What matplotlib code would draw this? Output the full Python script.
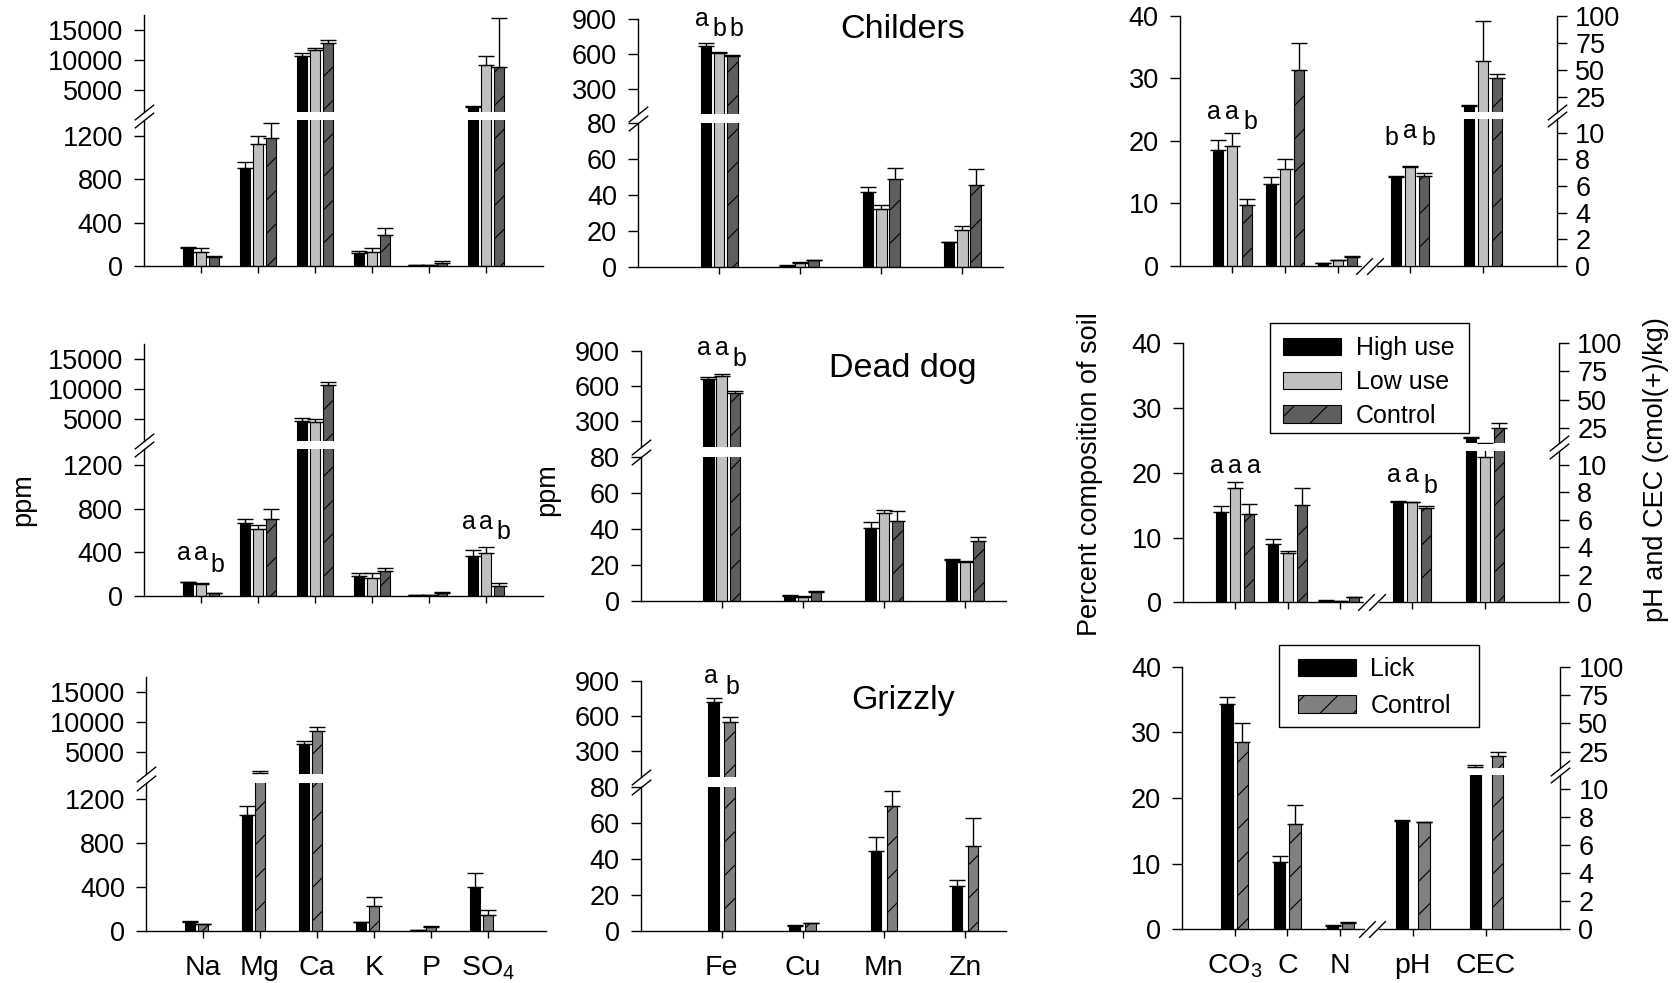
import matplotlib.pyplot as plt
import matplotlib.transforms as mtransforms
import numpy as np

plt.rcParams['font.family'] = ['Liberation Sans', 'DejaVu Sans']
plt.rcParams['hatch.linewidth'] = 0.8

W, H = 1675, 983

# categories
elements = ['Na', 'Mg', 'Ca', 'K', 'P', r'$\mathregular{SO_4}$']
traces = ['Fe', 'Cu', 'Mn', 'Zn']
soil = [r'$\mathregular{CO_3}$', 'C', 'N', 'pH', 'CEC']

# Childers (high use, low use, control): mean and SE
ch_el_high = [163, 902, 10670, 117, 9, 2220]
ch_el_high_se = [9, 56, 550, 25, 1, 80]
ch_el_low = [132, 1127, 11670, 132, 10, 9110]
ch_el_low_se = [31, 77, 390, 31, 1, 1560]
ch_el_ctrl = [86, 1180, 12780, 283, 30, 8780]
ch_el_ctrl_se = [4, 144, 500, 71, 15, 8160]

ch_tr_high = [666, 0.6, 41.6, 13.7]
ch_tr_high_se = [23, 0.1, 2.8, 0.3]
ch_tr_low = [603, 2.2, 31.8, 20.6]
ch_tr_low_se = [8, 0.6, 2.5, 2.2]
ch_tr_ctrl = [583, 3.6, 49.0, 45.3]
ch_tr_ctrl_se = [3, 0.3, 6.0, 9.2]

# CO3, C, N (%) then pH, CEC
ch_so_high = [18.5, 13.1, 0.5, 6.7, 16.4]
ch_so_high_se = [1.7, 1.2, 0.05, 0.05, 0.6]
ch_so_low = [19.2, 15.5, 0.96, 7.45, 58.2]
ch_so_low_se = [2.1, 1.6, 0.05, 0.05, 36.6]
ch_so_ctrl = [9.8, 31.4, 1.5, 6.75, 41.9]
ch_so_ctrl_se = [0.9, 4.2, 0.05, 0.23, 4.3]

# Dead dog
dd_el_high = [123, 672, 4610, 184, 6, 368]
dd_el_high_se = [6, 31, 560, 25, 1, 53]
dd_el_low = [104, 614, 4385, 166, 6, 390]
dd_el_low_se = [10, 37, 500, 40, 1, 61]
dd_el_ctrl = [22, 703, 10560, 227, 21, 86]
dd_el_ctrl_se = [6, 98, 610, 31, 10, 28]

dd_tr_high = [658, 3.0, 40.3, 22.7]
dd_tr_high_se = [17, 0.3, 3.3, 0.4]
dd_tr_low = [681, 2.4, 49.0, 21.4]
dd_tr_low_se = [23, 0.6, 1.6, 1.0]
dd_tr_ctrl = [542, 5.2, 44.4, 33.3]
dd_tr_ctrl_se = [17, 0.5, 5.5, 2.4]

dd_so_high = [13.9, 9.0, 0.26, 7.33, 15.5]
dd_so_high_se = [0.9, 0.7, 0.1, 0.05, 1.5]
dd_so_low = [17.6, 7.6, 0.15, 7.31, 10.6]
dd_so_low_se = [1.0, 0.4, 0.03, 0.02, 1.1]
dd_so_ctrl = [13.6, 15.1, 0.77, 6.84, 24.4]
dd_so_ctrl_se = [1.6, 2.6, 0.11, 0.2, 4.5]

# Grizzly (lick, control)
gr_el_lick = [85, 1054, 6370, 79, 6, 397]
gr_el_lick_se = [6, 85, 550, 6, 1, 133]
gr_el_ctrl = [61, 1520, 8510, 230, 33, 142]
gr_el_ctrl_se = [3, 330, 600, 82, 12, 46]

gr_tr_lick = [718, 3.0, 44.5, 25.1]
gr_tr_lick_se = [34, 0.1, 7.6, 3.0]
gr_tr_ctrl = [550, 4.3, 69.5, 46.9]
gr_tr_ctrl_se = [40, 0.3, 7.9, 15.9]

gr_so_lick = [34.3, 10.3, 0.56, 7.74, 11.8]
gr_so_lick_se = [1.1, 0.9, 0.05, 0.05, 1.3]
gr_so_ctrl = [28.5, 16.0, 1.0, 7.64, 21.2]
gr_so_ctrl_se = [2.9, 2.9, 0.1, 0.05, 3.8]

BLACK = '#000000'
LIGHT = '#c0c0c0'
DARK = '#5e5e5e'
MID = '#808080'

TICK_FS = 19.5

fig = plt.figure(figsize=(W / 100, H / 100), dpi=100)


def px_rect(x0, ybot, x1, ytop):
    return [x0 / W, 1 - ybot / H, (x1 - x0) / W, (ybot - ytop) / H]


SLASH = dict(marker=[(-1, -0.8), (1, 0.8)], markersize=14, linestyle='none',
             color='k', mec='k', mew=1, clip_on=False, zorder=6)


def style_y(ax, side='left'):
    ax.tick_params(axis='y', direction='out', length=7, width=1, labelsize=TICK_FS,
                   pad=8 if side == 'left' else 6)
    for s in ax.spines.values():
        s.set_linewidth(1)


def broken_axes(x0, x1, yb, ylo_top, yhi_bot, yt, xlim, lo_lim, hi_lim, lo_ticks, hi_ticks):
    lo = fig.add_axes(px_rect(x0, yb, x1, ylo_top))
    hi = fig.add_axes(px_rect(x0, yhi_bot, x1, yt))
    for ax in (lo, hi):
        ax.set_xlim(*xlim)
        ax.spines[['top', 'right']].set_visible(False)
        ax.patch.set_visible(False)
        style_y(ax)
    hi.spines['bottom'].set_visible(False)
    hi.tick_params(axis='x', bottom=False, labelbottom=False)
    lo.tick_params(axis='x', direction='out', length=5, width=1, labelsize=20.5, pad=12)
    lo.set_ylim(*lo_lim)
    hi.set_ylim(*hi_lim)
    lo.set_yticks(lo_ticks)
    hi.set_yticks(hi_ticks)
    lo.plot([0], [1], transform=lo.transAxes, **SLASH)
    hi.plot([0], [0], transform=hi.transAxes, **SLASH)
    return lo, hi


def draw_bars(axes, xpos, series, offsets, width):
    xpos = np.asarray(xpos, dtype=float)
    for ax in axes:
        ymin = ax.get_ylim()[0]
        for (vals, se, color, hatch), off in zip(series, offsets):
            vals = np.asarray(vals, dtype=float)
            se = np.asarray(se, dtype=float)
            x = xpos + off
            ax.bar(x, vals, width, color=color, edgecolor='k', linewidth=0.8,
                   hatch=hatch, zorder=2)
            # only the caps that reach into this axes segment
            keep = vals + se > ymin
            ax.errorbar(x[keep], vals[keep], yerr=[np.zeros(keep.sum()), se[keep]],
                        fmt='none', ecolor='k', elinewidth=1, capsize=5.8,
                        capthick=1, zorder=3)


def letters(ax, x, offsets, labels, heights, spread=1.3):
    for off, s, y in zip(offsets, labels, heights):
        ax.text(x + off * spread, y, s, ha='center', va='center', fontsize=18)


def soil_axes(x0, x1, yb, yt, ylo_top, yhi_bot):
    ax = fig.add_axes(px_rect(x0, yb, x1, yt))
    ax.set_xlim(0, 7.17)
    ax.set_ylim(0, 40)
    ax.set_yticks([0, 10, 20, 30, 40])
    ax.spines[['top', 'right']].set_visible(False)
    style_y(ax)
    ax.tick_params(axis='x', direction='out', length=5, width=1, labelsize=20.5, pad=12)
    lo = fig.add_axes(px_rect(x0, yb, x1, ylo_top))
    hi = fig.add_axes(px_rect(x0, yhi_bot, x1, yt))
    for a in (lo, hi):
        a.set_xlim(0, 7.17)
        a.patch.set_visible(False)
        a.spines[['top', 'left', 'bottom']].set_visible(False)
        a.yaxis.tick_right()
        a.tick_params(axis='x', bottom=False, labelbottom=False)
        style_y(a, 'right')
    lo.set_ylim(0, 11)
    lo.set_yticks([0, 2, 4, 6, 8, 10])
    hi.set_ylim(11, 100)
    hi.set_yticks([25, 50, 75, 100])
    lo.plot([1], [1], transform=lo.transAxes, **SLASH)
    hi.plot([1], [0], transform=hi.transAxes, **SLASH)
    # break in the x axis between N and pH
    brk = 3.6
    tr = mtransforms.blended_transform_factory(ax.transData, ax.transAxes)
    ax.plot([brk - 0.1, brk + 0.1], [0, 0], transform=tr, color='white', lw=3,
            clip_on=False, zorder=5)
    ax.plot([brk - 0.1, brk + 0.1], [0, 0], transform=tr, marker=[(-1, -1), (1, 1)],
            markersize=12, linestyle='none', color='k', mec='k', mew=1, clip_on=False, zorder=6)
    return ax, lo, hi


el_x = np.arange(1, 7)
tr_x = np.arange(1, 5)
so_left_x = np.array([1, 2, 3])
so_right_x = np.array([4.37, 5.76])

el_off3 = [-0.23, 0, 0.23]
tr_off3 = [-0.164, 0, 0.164]
so_off3 = [-0.27, 0, 0.27]

rows = [
    ('Childers', (266, 119.75, 111.9, 15), (266.7, 122.7, 114, 19), (266, 15.7, 119.4, 111.8),
     (638, 1003), (1179.7, 1557.2), 30),
    ('Dead dog', (595.7, 449, 440.5, 344), (601, 456.7, 446.8, 350.7), (602.3, 343.3, 451.3, 443.4),
     (640.6, 1005.6), (1182.6, 1559.2), 369),
    ('Grizzly', (931, 782.5, 774.4, 676.5), (931, 786.7, 776.8, 680.7), (929.3, 666.7, 775.3, 767.6),
     (640.6, 1005.6), (1181.8, 1560.4), 700),
]
left_x = [(143.6, 542.9), (143.6, 542.9), (145.8, 545.5)]

three = (BLACK, LIGHT, DARK)
hatch3 = (None, None, '/')

el_data = [
    [(ch_el_high, ch_el_high_se), (ch_el_low, ch_el_low_se), (ch_el_ctrl, ch_el_ctrl_se)],
    [(dd_el_high, dd_el_high_se), (dd_el_low, dd_el_low_se), (dd_el_ctrl, dd_el_ctrl_se)],
    [(gr_el_lick, gr_el_lick_se), (gr_el_ctrl, gr_el_ctrl_se)],
]
tr_data = [
    [(ch_tr_high, ch_tr_high_se), (ch_tr_low, ch_tr_low_se), (ch_tr_ctrl, ch_tr_ctrl_se)],
    [(dd_tr_high, dd_tr_high_se), (dd_tr_low, dd_tr_low_se), (dd_tr_ctrl, dd_tr_ctrl_se)],
    [(gr_tr_lick, gr_tr_lick_se), (gr_tr_ctrl, gr_tr_ctrl_se)],
]
so_data = [
    [(ch_so_high, ch_so_high_se), (ch_so_low, ch_so_low_se), (ch_so_ctrl, ch_so_ctrl_se)],
    [(dd_so_high, dd_so_high_se), (dd_so_low, dd_so_low_se), (dd_so_ctrl, dd_so_ctrl_se)],
    [(gr_so_lick, gr_so_lick_se), (gr_so_ctrl, gr_so_ctrl_se)],
]

panels = {}
for i, (name, el_y, tr_y, so_y, tr_xr, so_xr, title_y) in enumerate(rows):
    grizzly = i == 2
    if grizzly:
        colors, hatches = (BLACK, MID), (None, '/')
    else:
        colors, hatches = three, hatch3

    # major elements
    lo, hi = broken_axes(left_x[i][0], left_x[i][1], *el_y, (0, 7), (0, 1350), (1350, 17500),
                         [0, 400, 800, 1200], [5000, 10000, 15000])
    series = [(v, s, c, h) for (v, s), c, h in zip(el_data[i], colors, hatches)]
    draw_bars((lo, hi), el_x, series, [-0.23, 0] if grizzly else el_off3, 0.175)
    lo.set_xticks(el_x, elements if grizzly else [])
    panels[(i, 'el')] = (lo, hi)

    # trace metals
    lo2, hi2 = broken_axes(tr_xr[0], tr_xr[1], *tr_y, (0, 4.5), (0, 80), (80, 900),
                           [0, 20, 40, 60, 80], [300, 600, 900])
    series = [(v, s, c, h) for (v, s), c, h in zip(tr_data[i], colors, hatches)]
    draw_bars((lo2, hi2), tr_x, series, [-0.099, 0.099] if grizzly else tr_off3,
              0.132 if grizzly else 0.13)
    lo2.set_xticks(tr_x, traces if grizzly else [])
    panels[(i, 'tr')] = (lo2, hi2)

    # soil properties: % on the left axis, pH and CEC on the broken right axis
    ax, rlo, rhi = soil_axes(so_xr[0], so_xr[1], *so_y)
    left_series = [(np.asarray(v)[:3], np.asarray(s)[:3], c, h)
                   for (v, s), c, h in zip(so_data[i], colors, hatches)]
    right_series = [(np.asarray(v)[3:], np.asarray(s)[3:], c, h)
                    for (v, s), c, h in zip(so_data[i], colors, hatches)]
    if grizzly:
        draw_bars((ax,), so_left_x, left_series, [-0.146, 0.146], 0.215)
        draw_bars((rlo, rhi), so_right_x, right_series, [-0.2, 0.22], 0.22)
    else:
        draw_bars((ax,), so_left_x, left_series, so_off3, 0.19)
        draw_bars((rlo, rhi), so_right_x, right_series, so_off3, 0.19)
    ax.set_xticks(np.r_[so_left_x, so_right_x], soil if grizzly else [])
    panels[(i, 'so')] = (ax, rlo, rhi)

    fig.text(903 / W, 1 - title_y / H, name, fontsize=24.5, ha='center', va='center')

# significance letters
letters(panels[(0, 'tr')][1], 1, tr_off3, ['a', 'b', 'b'], [900, 811, 811])
letters(panels[(0, 'so')][0], 1, so_off3, ['a', 'a', 'b'], [24.6, 24.6, 23.0])
letters(panels[(0, 'so')][0], 4.37, so_off3, ['b', 'a', 'b'], [20.4, 21.6, 20.4])
letters(panels[(1, 'el')][0], 1, el_off3, ['a', 'a', 'b'], [390, 390, 282])
letters(panels[(1, 'el')][0], 6, el_off3, ['a', 'a', 'b'], [681, 681, 589])
letters(panels[(1, 'tr')][1], 1, tr_off3, ['a', 'a', 'b'], [920, 920, 827])
letters(panels[(1, 'so')][0], 1, so_off3, ['a', 'a', 'a'], [21.1, 21.1, 21.1])
letters(panels[(1, 'so')][0], 4.37, so_off3, ['a', 'a', 'b'], [19.7, 19.7, 18.0])
letters(panels[(2, 'tr')][1], 1, [-0.099, 0.099], ['a', 'b'], [942, 849])

# axis titles
fig.text(23 / W, 1 - 500 / H, 'ppm', rotation=90, ha='center', va='center', fontsize=19.5)
fig.text(547 / W, 1 - 490 / H, 'ppm', rotation=90, ha='center', va='center', fontsize=19.5)
fig.text(1090 / W, 1 - 474 / H, 'Percent composition of soil', rotation=90,
         ha='center', va='center', fontsize=19.5)
fig.text(1656 / W, 1 - 470 / H, 'pH and CEC (cmol(+)/kg)', rotation=90,
         ha='center', va='center', fontsize=19.5)

# legends, with plain rectangular frames
leg_kw = dict(loc='upper left', fontsize=18, frameon=False, handlelength=2.35,
              handleheight=0.68, handletextpad=0.57, borderpad=0.5, borderaxespad=0,
              bbox_transform=fig.transFigure)
h3 = [plt.Rectangle((0, 0), 1, 1, facecolor=c, edgecolor='k', linewidth=0.8, hatch=h)
      for c, h in zip(three, hatch3)]
fig.legend(h3, ['High use', 'Low use', 'Control'], labelspacing=0.39,
           bbox_to_anchor=(1270 / W, 1 - 323.7 / H), **leg_kw)
h2 = [plt.Rectangle((0, 0), 1, 1, facecolor=c, edgecolor='k', linewidth=0.8, hatch=h)
      for c, h in zip((BLACK, MID), (None, '/'))]
fig.legend(h2, ['Lick', 'Control'], labelspacing=0.49,
           bbox_to_anchor=(1285 / W, 1 - 645 / H), **leg_kw)
for x0, y0, x1, y1 in [(1270, 322.7, 1469.3, 432.7), (1279, 645, 1478.6, 726.7)]:
    fig.patches.append(plt.Rectangle((x0 / W, 1 - y1 / H), (x1 - x0) / W, (y1 - y0) / H,
                                     transform=fig.transFigure, facecolor='none',
                                     edgecolor='k', linewidth=1, zorder=6))

fig.savefig('out.png', dpi=100, facecolor='white')
